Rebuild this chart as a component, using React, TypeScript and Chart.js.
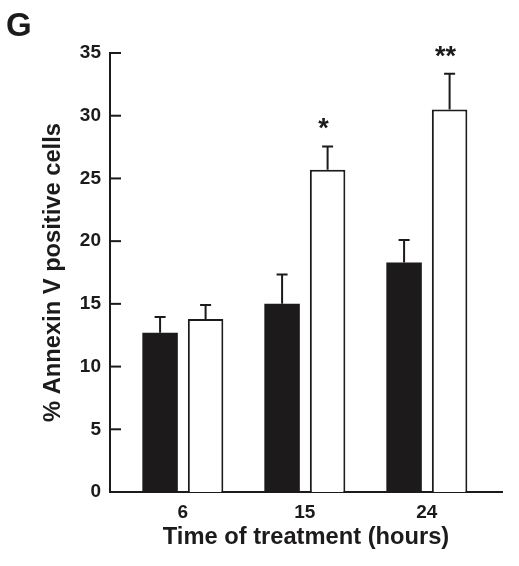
import React, { useEffect, useRef } from "react";
import { Chart, registerables, Plugin } from "chart.js";

Chart.register(...registerables);

// hours of treatment
const categories = ["6", "15", "24"];
// filled bars
const controlValues = [12.7, 15.0, 18.3];
const controlErrors = [1.25, 2.35, 1.8];
// open bars
const treatedValues = [13.8, 25.7, 30.5];
const treatedErrors = [1.1, 1.85, 2.85];
const treatedMarks = ["", "*", "**"];
const yTicks = [0, 5, 10, 15, 20, 25, 30, 35];

const FONT = "'Liberation Sans', Arial, Helvetica, sans-serif";
const INK = "#1c1a1b";

const errorBars: Plugin<"bar"> = {
  id: "errorBars",
  afterDatasetsDraw(chart) {
    const ctx = chart.ctx;
    const yScale = chart.scales.y;
    const errs = [controlErrors, treatedErrors];
    ctx.save();
    ctx.strokeStyle = INK;
    ctx.lineWidth = 2;
    chart.data.datasets.forEach((ds, di) => {
      const meta = chart.getDatasetMeta(di);
      meta.data.forEach((el: any, i) => {
        const v = (ds.data[i] as any).y;
        const top = yScale.getPixelForValue(v + errs[di][i]);
        ctx.beginPath();
        ctx.moveTo(el.x, el.y);
        ctx.lineTo(el.x, top);
        ctx.moveTo(el.x - 5.5, top);
        ctx.lineTo(el.x + 5.5, top);
        ctx.stroke();
      });
    });
    ctx.restore();
  },
};

const innerTicks: Plugin<"bar"> = {
  id: "innerTicks",
  afterDraw(chart) {
    const ctx = chart.ctx;
    const yScale = chart.scales.y;
    const left = chart.chartArea.left;
    ctx.save();
    ctx.strokeStyle = INK;
    ctx.lineWidth = 2;
    yScale.ticks.forEach((t) => {
      const py = yScale.getPixelForValue(t.value);
      ctx.beginPath();
      ctx.moveTo(left, py);
      ctx.lineTo(left + 11, py);
      ctx.stroke();
    });
    ctx.restore();
  },
};

const marks: Plugin<"bar"> = {
  id: "marks",
  afterDraw(chart) {
    const ctx = chart.ctx;
    const yScale = chart.scales.y;
    const meta = chart.getDatasetMeta(1);
    ctx.save();
    ctx.fillStyle = INK;
    ctx.textAlign = "center";
    ctx.textBaseline = "alphabetic";
    ctx.font = `bold 27px ${FONT}`;
    meta.data.forEach((el: any, i) => {
      if (!treatedMarks[i]) return;
      const top = yScale.getPixelForValue(treatedValues[i] + treatedErrors[i]);
      ctx.fillText(treatedMarks[i], el.x - 4, top - 9);
    });
    // panel letter
    ctx.textAlign = "left";
    ctx.font = `bold 33px ${FONT}`;
    ctx.fillText("G", 6, 36);
    ctx.restore();
  },
};

export default function App() {
  const canvasRef = useRef<HTMLCanvasElement>(null);

  useEffect(() => {
    if (!canvasRef.current) return;
    const chart = new Chart(canvasRef.current, {
      type: "bar",
      data: {
        datasets: [
          {
            label: "control",
            data: controlValues.map((y, i) => ({ x: i, y })),
            backgroundColor: INK,
            borderColor: INK,
            borderWidth: 0,
          },
          {
            label: "treated",
            data: treatedValues.map((y, i) => ({ x: i, y })),
            backgroundColor: "#ffffff",
            borderColor: INK,
            borderWidth: 2,
          },
        ],
      },
      options: {
        animation: false,
        responsive: true,
        maintainAspectRatio: false,
        categoryPercentage: 0.746,
        barPercentage: 0.78,
        layout: { padding: { left: 0, top: 53, right: 17, bottom: 0 } },
        plugins: { legend: { display: false }, tooltip: { enabled: false } },
        scales: {
          x: {
            type: "linear",
            offset: false,
            min: -0.597,
            max: 2.616,
            afterBuildTicks: (s: any) => {
              s.ticks = categories.map((_, i) => ({ value: i }));
            },
            afterFit: (s: any) => {
              s.height = 74;
            },
            grid: { display: false, drawTicks: false, offset: false },
            border: { display: true, color: INK, width: 2 },
            ticks: {
              padding: 9,
              color: INK,
              font: { family: FONT, size: 19, weight: "bold" },
              callback: (v: any) => categories[v] ?? "",
            },
            title: {
              display: true,
              text: "Time of treatment (hours)",
              color: INK,
              font: { family: FONT, size: 23.7, weight: "bold" },
              padding: { top: 0, bottom: 14 },
            },
          },
          y: {
            min: 0,
            max: 35,
            afterBuildTicks: (s: any) => {
              s.ticks = yTicks.map((value) => ({ value }));
            },
            afterFit: (s: any) => {
              s.width = 110;
            },
            grid: { display: false, drawTicks: false },
            border: { display: true, color: INK, width: 2 },
            ticks: {
              padding: 9,
              color: INK,
              font: { family: FONT, size: 19, weight: "bold" },
            },
            title: {
              display: true,
              text: "% Annexin V positive cells",
              color: INK,
              font: { family: FONT, size: 23.7, weight: "bold" },
              padding: { top: 39, bottom: 0 },
            },
          },
        },
      },
      plugins: [errorBars, innerTicks, marks],
    });
    return () => chart.destroy();
  }, []);

  return (
    <div style={{ position: "absolute", left: 0, top: 0, width: 519, height: 566, background: "#fff" }}>
      <canvas ref={canvasRef} />
    </div>
  );
}
